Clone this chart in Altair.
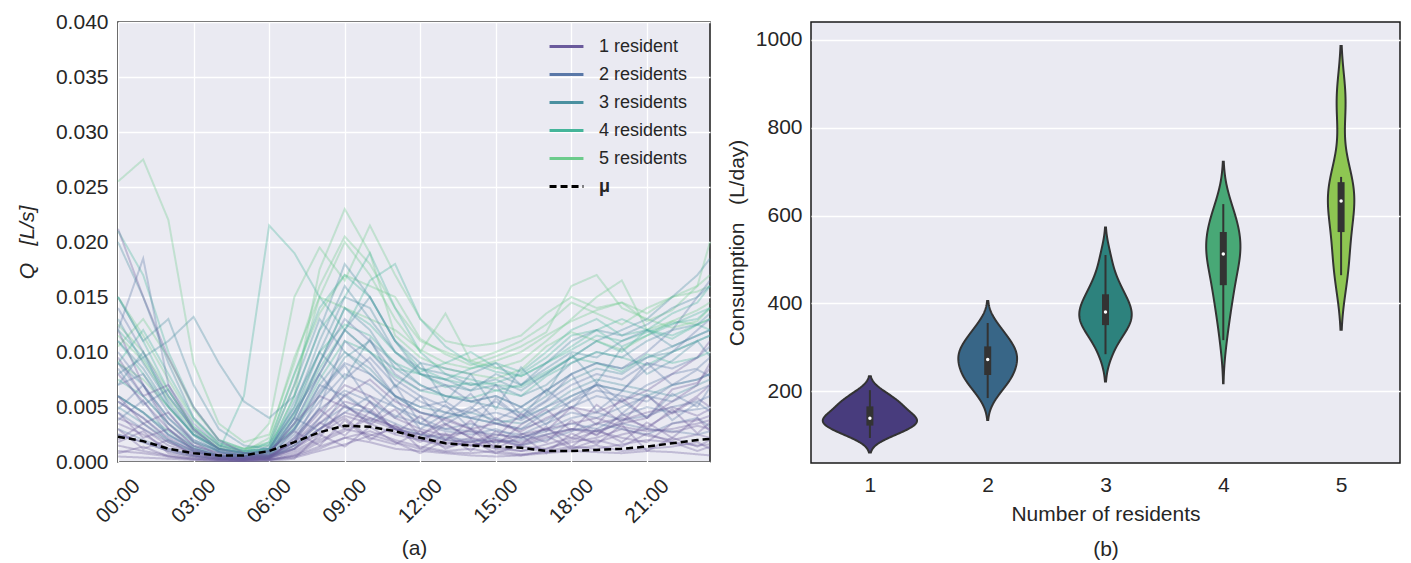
import altair as alt
import pandas as pd

# ---------------- Panel (a): household flow traces ----------------
HOURS = [0, 1, 2, 3, 4, 5, 6, 7, 8, 9, 10, 11, 12, 13, 14, 15, 16, 17, 18, 19, 20, 21, 22, 23, 23.5]

# values in units of 1e-4 L/s
G1 = [
    [25, 18, 10, 5, 2, 2, 3, 12, 30, 42, 35, 25, 20, 14, 18, 12, 10, 16, 22, 18, 25, 30, 27, 33, 30],
    [40, 30, 15, 8, 4, 3, 2, 6, 18, 28, 40, 32, 22, 26, 15, 20, 14, 12, 20, 28, 22, 18, 35, 38, 42],
    [15, 10, 6, 3, 2, 1, 2, 5, 12, 22, 28, 20, 14, 10, 12, 8, 6, 10, 14, 12, 16, 20, 18, 15, 16],
    [80, 55, 30, 12, 6, 4, 5, 15, 35, 55, 48, 30, 25, 35, 22, 18, 25, 30, 22, 35, 40, 32, 45, 60, 70],
    [10, 8, 5, 3, 2, 2, 3, 8, 20, 30, 25, 18, 12, 9, 8, 10, 7, 9, 12, 15, 10, 12, 14, 18, 12],
    [55, 40, 22, 10, 5, 3, 4, 20, 45, 70, 60, 40, 30, 24, 28, 20, 15, 22, 30, 25, 38, 45, 50, 42, 48],
    [20, 35, 18, 8, 3, 2, 2, 4, 10, 16, 24, 30, 20, 16, 22, 14, 10, 12, 18, 22, 30, 24, 20, 25, 22],
    [120, 70, 35, 15, 8, 5, 6, 18, 40, 60, 75, 55, 45, 38, 30, 35, 28, 40, 50, 45, 55, 65, 80, 95, 110],
    [5, 4, 3, 2, 1, 1, 2, 6, 14, 22, 18, 12, 10, 8, 6, 5, 6, 8, 10, 9, 8, 10, 9, 7, 6],
    [35, 25, 12, 6, 3, 2, 8, 35, 60, 50, 40, 32, 28, 20, 18, 25, 22, 30, 35, 40, 32, 28, 30, 35, 38],
    [212, 150, 95, 50, 20, 8, 6, 12, 30, 45, 38, 30, 22, 18, 15, 20, 18, 25, 30, 28, 35, 40, 55, 70, 90],
    [30, 12, 20, 6, 3, 2, 10, 28, 15, 38, 20, 34, 12, 25, 10, 28, 16, 32, 14, 30, 18, 36, 22, 40, 28],
    [60, 35, 45, 18, 6, 4, 3, 22, 48, 30, 55, 26, 42, 20, 38, 15, 34, 48, 28, 52, 36, 60, 44, 58, 50],
    [18, 28, 8, 4, 2, 1, 1, 3, 25, 14, 32, 18, 8, 20, 30, 12, 24, 8, 26, 16, 34, 10, 22, 14, 20],
    [45, 22, 30, 10, 4, 2, 5, 18, 36, 24, 46, 30, 18, 34, 22, 40, 26, 18, 38, 24, 44, 30, 48, 26, 36],
    [8, 14, 5, 2, 1, 1, 4, 12, 26, 40, 22, 16, 28, 12, 20, 8, 16, 24, 12, 20, 14, 26, 18, 10, 14],
    [95, 60, 70, 30, 12, 6, 4, 10, 22, 52, 34, 48, 24, 40, 30, 22, 44, 28, 50, 34, 58, 40, 66, 72, 85],
]
G2 = [
    [60, 45, 25, 12, 6, 4, 6, 25, 55, 80, 70, 50, 40, 30, 35, 28, 25, 35, 45, 40, 50, 60, 55, 65, 70],
    [90, 60, 35, 15, 8, 5, 5, 12, 40, 75, 95, 70, 55, 45, 40, 35, 30, 38, 50, 60, 55, 70, 80, 85, 95],
    [30, 20, 12, 6, 3, 2, 3, 15, 35, 50, 45, 35, 25, 20, 18, 22, 15, 20, 28, 35, 30, 25, 35, 40, 32],
    [140, 100, 60, 30, 12, 8, 10, 30, 65, 90, 80, 60, 50, 55, 40, 45, 38, 50, 60, 70, 65, 85, 100, 120, 130],
    [45, 30, 18, 9, 4, 3, 5, 22, 48, 65, 55, 42, 35, 28, 25, 30, 22, 28, 35, 30, 42, 50, 45, 48, 50],
    [70, 80, 45, 20, 10, 6, 6, 18, 50, 110, 90, 60, 45, 40, 50, 35, 30, 45, 55, 65, 60, 55, 70, 75, 80],
    [25, 18, 10, 5, 3, 2, 4, 30, 70, 60, 45, 30, 25, 22, 20, 18, 20, 25, 30, 28, 35, 30, 28, 25, 28],
    [100, 70, 40, 18, 9, 5, 8, 35, 80, 120, 100, 75, 60, 50, 45, 55, 40, 55, 70, 80, 75, 90, 85, 95, 105],
    [55, 40, 20, 10, 5, 3, 4, 15, 30, 45, 60, 50, 35, 30, 28, 25, 22, 30, 40, 45, 38, 42, 50, 55, 60],
    [120, 185, 70, 35, 15, 8, 10, 40, 90, 130, 110, 80, 65, 70, 55, 60, 50, 65, 80, 90, 85, 100, 120, 150, 165],
    [48, 70, 30, 14, 5, 3, 6, 40, 28, 62, 45, 70, 35, 52, 30, 58, 40, 66, 48, 72, 55, 40, 62, 50, 68],
    [85, 52, 66, 28, 10, 5, 4, 18, 62, 88, 54, 40, 60, 34, 48, 70, 42, 56, 80, 46, 64, 90, 70, 84, 78],
    [38, 56, 24, 12, 5, 3, 12, 46, 80, 52, 36, 58, 30, 44, 62, 38, 50, 34, 56, 70, 44, 62, 38, 54, 46],
]
G3 = [
    [90, 70, 40, 20, 10, 6, 8, 40, 90, 140, 120, 85, 70, 60, 55, 50, 45, 60, 75, 85, 80, 95, 100, 110, 115],
    [130, 90, 55, 25, 12, 8, 10, 35, 80, 120, 150, 110, 80, 75, 65, 70, 60, 70, 90, 100, 95, 110, 120, 125, 135],
    [60, 45, 25, 12, 6, 4, 6, 28, 70, 100, 85, 60, 45, 40, 45, 38, 35, 45, 60, 70, 65, 60, 70, 75, 80],
    [200, 150, 90, 40, 18, 10, 12, 50, 110, 160, 130, 100, 85, 80, 70, 75, 65, 80, 95, 110, 120, 130, 150, 170, 185],
    [80, 95, 110, 132, 90, 55, 40, 60, 120, 180, 150, 110, 90, 85, 80, 90, 70, 85, 100, 95, 110, 120, 105, 115, 120],
    [110, 85, 50, 25, 12, 8, 10, 30, 60, 95, 110, 90, 70, 60, 55, 60, 50, 65, 80, 90, 85, 95, 105, 115, 120],
    [50, 35, 20, 10, 5, 4, 15, 70, 130, 100, 80, 60, 50, 45, 40, 35, 40, 50, 65, 75, 70, 65, 60, 70, 75],
    [150, 110, 130, 70, 30, 15, 12, 45, 100, 150, 140, 100, 80, 70, 65, 80, 70, 90, 110, 120, 115, 125, 140, 150, 160],
    [70, 100, 52, 24, 9, 6, 9, 55, 100, 76, 112, 68, 90, 55, 80, 48, 86, 62, 98, 72, 104, 80, 92, 110, 96],
]
G4 = [
    [120, 95, 60, 30, 12, 8, 18, 80, 140, 170, 150, 110, 85, 75, 70, 72, 80, 95, 115, 120, 105, 115, 125, 135, 140],
    [90, 120, 80, 40, 16, 10, 12, 60, 120, 150, 190, 140, 100, 80, 75, 70, 68, 80, 95, 110, 100, 120, 115, 125, 130],
    [210, 170, 100, 50, 20, 12, 16, 50, 100, 125, 115, 90, 80, 75, 85, 90, 82, 100, 120, 130, 115, 120, 135, 145, 160],
    [75, 60, 35, 18, 10, 60, 215, 190, 150, 120, 100, 85, 80, 68, 72, 65, 60, 78, 90, 100, 95, 88, 100, 110, 115],
    [110, 80, 50, 25, 12, 8, 10, 42, 85, 120, 165, 180, 130, 105, 90, 82, 78, 90, 105, 120, 130, 120, 112, 125, 120],
    [60, 45, 28, 14, 6, 5, 8, 32, 75, 110, 100, 78, 65, 60, 58, 65, 70, 82, 95, 90, 82, 98, 90, 95, 100],
    [150, 110, 65, 32, 15, 10, 12, 45, 90, 140, 125, 100, 82, 90, 100, 86, 78, 90, 102, 115, 110, 118, 126, 130, 140],
]
G5 = [
    [255, 275, 220, 90, 35, 18, 25, 90, 160, 205, 180, 140, 110, 100, 92, 100, 110, 125, 145, 135, 125, 140, 150, 160, 170],
    [125, 100, 65, 32, 15, 10, 35, 150, 195, 165, 215, 170, 130, 110, 105, 108, 115, 135, 150, 140, 145, 135, 150, 155, 160],
    [105, 130, 95, 48, 20, 12, 15, 70, 150, 200, 170, 130, 100, 135, 92, 85, 92, 110, 130, 150, 165, 120, 128, 138, 145],
    [150, 115, 75, 38, 17, 12, 18, 80, 135, 170, 160, 150, 112, 98, 88, 96, 105, 118, 160, 170, 140, 130, 122, 128, 140],
    [90, 75, 50, 25, 12, 8, 12, 60, 175, 230, 190, 115, 95, 85, 80, 76, 84, 105, 118, 110, 102, 115, 128, 125, 130],
    [115, 92, 58, 28, 13, 9, 22, 95, 150, 140, 130, 120, 102, 90, 85, 92, 100, 115, 128, 138, 145, 128, 138, 160, 200],
]
MEAN = [23, 19, 12, 8, 6, 6, 10, 18, 27, 33, 32, 28, 22, 17, 15, 14, 13, 10, 10, 11, 12, 14, 17, 20, 21]

GROUP_LABELS = ["1 resident", "2 residents", "3 residents", "4 residents", "5 residents"]
MEAN_LABEL = "μ"
LINE_COLORS = ["#6a5a9c", "#5a78a8", "#4a90a0", "#45b59a", "#6ccb8c"]
X_TICKS = [0, 3, 6, 9, 12, 15, 18, 21]
Y_TICKS_A = [0.0, 0.005, 0.01, 0.015, 0.02, 0.025, 0.03, 0.035, 0.04]

# ---------------- Panel (b): daily consumption per household ----------------
CONS_1 = [93, 100, 106, 111, 115, 119, 122, 126, 130, 133, 135, 137,
          139, 142, 147, 153, 159, 164, 168, 172, 177, 184, 192, 202]
CONS_2 = [184, 200, 212, 222, 228, 232, 238, 245, 252, 258, 264, 269,
          275, 280, 285, 290, 295, 300, 307, 314, 322, 332, 342, 355]
CONS_3 = [284, 315, 333, 345, 352, 362, 370, 377, 383, 392, 405, 418, 428, 445, 470, 510]
CONS_4 = [316, 360, 395, 415, 430, 445, 470, 490, 502, 510,
          515, 522, 532, 545, 560, 570, 580, 595, 610, 626]
CONS_5 = [464, 541, 626, 640, 688, 862]
RESIDENTS = [1, 2, 3, 4, 5]
VIOLIN_COLORS = ["#483c7d", "#386687", "#2d827d", "#48a876", "#8ec652"]
Y_TICKS_B = [200, 400, 600, 800, 1000]

# ---------------- build tables ----------------
rows = []
for gi in [4, 3, 2, 1, 0]:
    lines = [G1, G2, G3, G4, G5][gi]
    for li, series in enumerate(lines):
        for h, v in zip(HOURS, series):
            rows.append({"hour": h, "q": v * 1e-4, "hh": f"{gi}-{li}", "grp": GROUP_LABELS[gi]})
lines_df = pd.DataFrame(rows)
mean_df = pd.DataFrame({"hour": HOURS, "q": [v * 1e-4 for v in MEAN], "grp": MEAN_LABEL})

cons_rows = []
for r, vals in zip(RESIDENTS, [CONS_1, CONS_2, CONS_3, CONS_4, CONS_5]):
    for v in vals:
        cons_rows.append({"residents": r, "consumption": v})
cons_df = pd.DataFrame(cons_rows)

TXT = "#262626"
NB = "\u00a0"
FS = 21

color_scale = alt.Scale(domain=GROUP_LABELS + [MEAN_LABEL], range=LINE_COLORS + ["#000000"])
dash_scale = alt.Scale(domain=GROUP_LABELS + [MEAN_LABEL], range=[[1, 0]] * 5 + [[7, 4]])
legend = alt.Legend(title=None, orient="none", legendX=430, legendY=6, padding=0,
                    labelFontSize=18, labelColor=TXT, symbolType="stroke",
                    symbolSize=1150, symbolStrokeWidth=3, symbolOpacity=1,
                    rowPadding=0, labelOffset=14,
                    labelFontWeight={"expr": "datum.label == 'μ' ? 'bold' : 'normal'"})

x_a = alt.X("hour:Q", scale=alt.Scale(domain=[0, 23.5], nice=False),
            axis=alt.Axis(values=X_TICKS, labelExpr="(datum.value < 10 ? '0' : '') + datum.value + ':00'",
                          labelAngle=-45, labelAlign="center", labelBaseline="middle",
                          labelPadding=39, title="(a)", titlePadding=11))
y_a = alt.Y("q:Q", scale=alt.Scale(domain=[0, 0.04], nice=False),
            axis=alt.Axis(values=Y_TICKS_A, format=".3f", labelPadding=10,
                          title="Q" + NB * 3 + "[L/s]", titleFontStyle="italic", titlePadding=18))

traces = alt.Chart(lines_df).mark_line(strokeWidth=2, opacity=0.33).encode(
    x=x_a, y=y_a,
    color=alt.Color("grp:N", scale=color_scale, legend=legend),
    strokeDash=alt.StrokeDash("grp:N", scale=dash_scale, legend=legend),
    detail="hh:N",
)
mean_line = alt.Chart(mean_df).mark_line(strokeWidth=2.5, opacity=1).encode(
    x=x_a, y=y_a,
    color=alt.Color("grp:N", scale=color_scale, legend=legend),
    strokeDash=alt.StrokeDash("grp:N", scale=dash_scale, legend=legend),
)
left = alt.layer(traces, mean_line).properties(width=592, height=440)

# ---------------- violins ----------------
x_title = ["Number of residents", "(b)"]
y_title = "Consumption" + NB * 3 + "(L/day)"
x_scale_b = alt.Scale(domain=[0.5, 5.5], nice=False)
y_scale_b = alt.Scale(domain=[36, 1041], nice=False)
x_axis_b = alt.Axis(values=RESIDENTS, format="d", grid=False, labelPadding=11,
                    title=x_title, titlePadding=8, titleLineHeight=35)
y_axis_b = alt.Axis(values=Y_TICKS_B, format="d", labelPadding=9, title=y_title, titlePadding=8)

base = alt.Chart(cons_df)
violin = base.transform_joinaggregate(
    vmin="min(consumption)", vmax="max(consumption)", sd="stdev(consumption)",
    qa="q1(consumption)", qb="q3(consumption)", n="count()", groupby=["residents"],
).transform_density(
    "consumption", as_=["value", "density"],
    groupby=["residents", "vmin", "vmax", "sd", "qa", "qb", "n"],
    extent=[0, 1100], steps=551,
).transform_calculate(
    bw="1.06*min(datum.sd,(datum.qb-datum.qa)/1.34)*pow(datum.n,-0.2)"
).transform_filter(
    "datum.value >= datum.vmin - 2*datum.bw && datum.value <= datum.vmax + 2*datum.bw"
).transform_joinaggregate(
    dmax="max(density)"
).transform_calculate(
    lo="datum.residents - 0.4*datum.density/datum.dmax",
    hi="datum.residents + 0.4*datum.density/datum.dmax",
).mark_area(orient="horizontal", stroke="#333333", strokeWidth=2, opacity=1).encode(
    y=alt.Y("value:Q", scale=y_scale_b, axis=y_axis_b),
    x=alt.X("lo:Q", scale=x_scale_b, axis=x_axis_b),
    x2="hi:Q",
    fill=alt.Fill("residents:N", scale=alt.Scale(domain=RESIDENTS, range=VIOLIN_COLORS), legend=None),
)

stats = base.transform_aggregate(
    qa="q1(consumption)", qb="q3(consumption)", med="median(consumption)", groupby=["residents"]
)
box = stats.mark_rule(strokeWidth=7, color="#333333", strokeCap="butt").encode(
    x=alt.X("residents:Q", scale=x_scale_b, axis=x_axis_b),
    y=alt.Y("qa:Q", scale=y_scale_b, axis=y_axis_b), y2="qb:Q",
)
whisk = base.transform_joinaggregate(
    qa="q1(consumption)", qb="q3(consumption)", groupby=["residents"]
).transform_filter(
    "datum.consumption >= datum.qa - 1.5*(datum.qb-datum.qa) && datum.consumption <= datum.qb + 1.5*(datum.qb-datum.qa)"
).transform_aggregate(
    wlo="min(consumption)", whi="max(consumption)", groupby=["residents"]
).mark_rule(strokeWidth=2, color="#333333").encode(
    x=alt.X("residents:Q", scale=x_scale_b, axis=x_axis_b),
    y=alt.Y("wlo:Q", scale=y_scale_b, axis=y_axis_b), y2="whi:Q",
)
med = stats.mark_point(filled=True, color="white", size=12, opacity=1).encode(
    x=alt.X("residents:Q", scale=x_scale_b, axis=x_axis_b),
    y=alt.Y("med:Q", scale=y_scale_b, axis=y_axis_b),
)
right = alt.layer(violin, whisk, box, med).properties(width=589, height=441)

chart = alt.hconcat(left, right, spacing=9).resolve_scale(
    color="independent", strokeDash="independent", fill="independent",
    x="independent", y="independent",
).resolve_legend(color="independent", strokeDash="independent", fill="independent").properties(
    padding={"left": 7, "top": 2, "right": 0, "bottom": 0}
).configure(font="Liberation Sans").configure_view(
    fill="#EAEAF2", stroke="#1a1a1a", strokeWidth=1.5
).configure_axis(
    grid=True, gridColor="white", gridWidth=1.3, domain=False, ticks=False, tickSize=0,
    labelColor=TXT, titleColor=TXT, labelFontSize=FS, titleFontSize=FS, titleFontWeight="normal",
)

chart.save("out.html", embed_options={"renderer": "svg", "actions": False})
